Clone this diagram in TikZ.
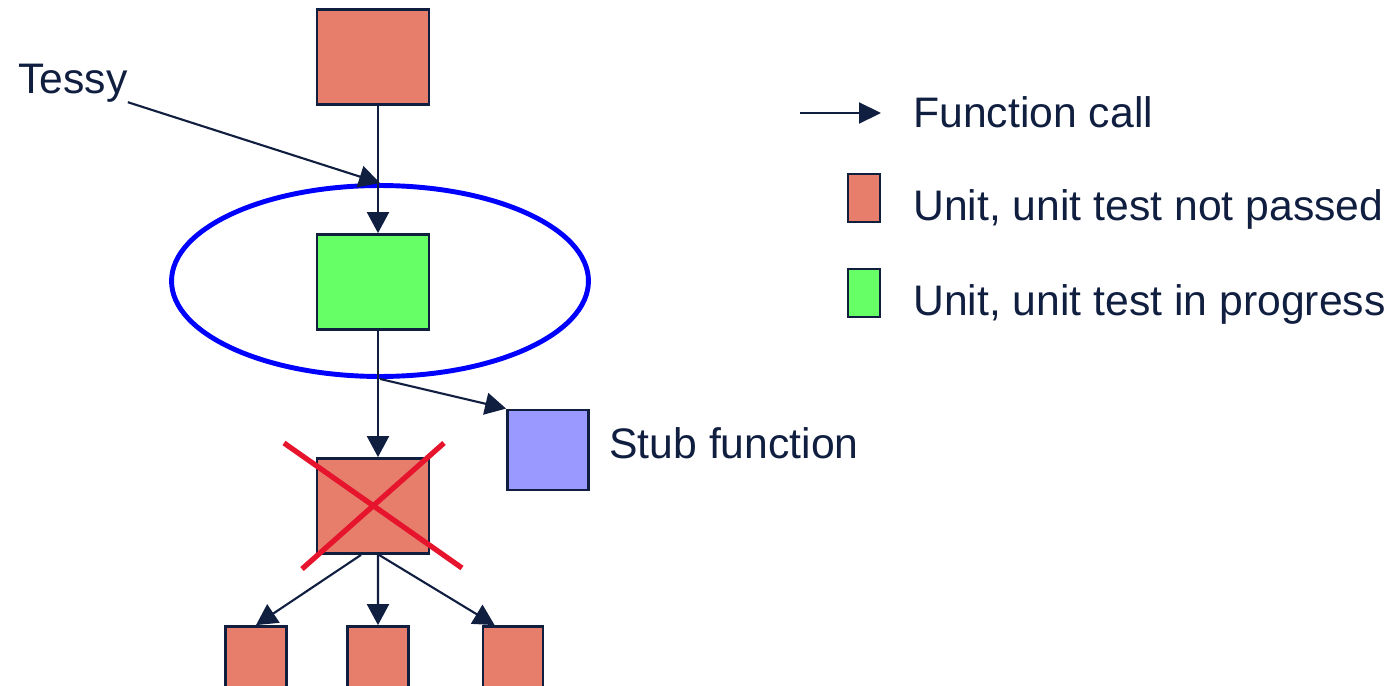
\documentclass[tikz,border=0pt]{standalone}
\usepackage{fontspec}
\setmainfont{Liberation Sans}
\usetikzlibrary{arrows.meta,shapes.geometric}
\definecolor{navy}{RGB}{16,30,64}
\definecolor{unitred}{RGB}{231,126,108}
\definecolor{unitgreen}{RGB}{102,255,102}
\definecolor{stubblue}{RGB}{153,153,255}
\definecolor{crossred}{RGB}{230,20,45}
\definecolor{ringblue}{RGB}{0,0,255}

\begin{document}
\begin{tikzpicture}[x=0.02cm, y=-0.02cm,
    font=\fontsize{24.3}{28}\selectfont, text=navy,
    unit/.style={draw=navy, line width=1.6pt, inner sep=0pt,
                 minimum width=2.24cm, minimum height=1.9cm},
    leaf/.style={unit, fill=unitred, minimum width=1.22cm},
    keybox/.style={unit, minimum width=0.64cm, minimum height=0.96cm},
    call/.style={draw=navy, line width=1.2pt,
                 -{Triangle[length=0.42cm,width=0.44cm]}},
    strike/.style={draw=crossred, line width=3pt},
    lbl/.style={inner sep=0pt, anchor=base west}]
    \clip (0,0) rectangle (1396,686);

    % units under test
    \node[unit, fill=unitred] (top) at (373,57) {};
    \node[unit, fill=unitgreen] (under) at (373,282) {};
    \node[draw=ringblue, line width=2.8pt, ellipse,
          minimum width=8.34cm, minimum height=3.82cm] (ring) at (380,281) {};
    \node[unit, fill=stubblue, minimum width=1.62cm, minimum height=1.6cm] (stub) at (548,450) {};
    \node[unit, fill=unitred] (crossed) at (373,506) {};
    \node[leaf] (b1) at (256,674) {};
    \node[leaf] (b2) at (378,674) {};
    \node[leaf, minimum width=1.2cm] (b3) at (513,674) {};

    \node[lbl] (tessy) at (18,93) {Tessy};
    \node[lbl] (stubtext) at (609,458) {Stub function};

    % calls
    \draw[call] (tessy.south east) -- (ring.north);
    \draw[call] ([xshift=0.1cm]top.south) -- ([xshift=0.1cm]under.north);
    \draw[call] ([xshift=0.1cm]under.south) -- ([xshift=0.1cm]crossed.north);
    \draw[call] (ring.south) -- (stub.north west);
    \draw[call] ([xshift=-0.24cm]crossed.south) -- (b1.north);
    \draw[call] ([xshift=0.1cm]crossed.south) -- (b2.north);
    \draw[call] ([xshift=0.12cm]crossed.south) -- ([xshift=0.26cm]b3.north west);

    % crossed out
    \draw[strike] (284,443) -- (462,568);
    \draw[strike] (444,443) -- (302,569);

    % legend
    \coordinate (keyfrom) at (800,113);
    \coordinate (keyto) at (881,113);
    \draw[call, -{Triangle[length=0.44cm,width=0.42cm]}] (keyfrom) -- (keyto);
    \node[lbl] (calltext) at (913,128) {Function call};
    \node[keybox, fill=unitred] (keyred) at (864,198) {};
    \node[lbl] (redtext) at (913,220) {Unit, unit test not passed};
    \node[keybox, fill=unitgreen] (keygreen) at (864,293) {};
    \node[lbl] (greentext) at (913,315) {Unit, unit test in progress};
\end{tikzpicture}
\end{document}
